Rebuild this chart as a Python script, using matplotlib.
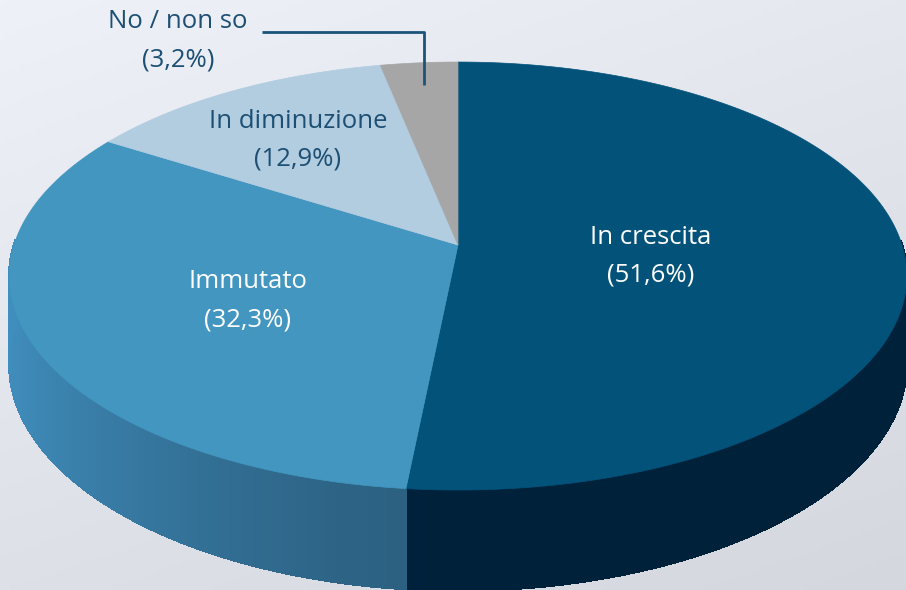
import numpy as np
import matplotlib.pyplot as plt
from matplotlib.patches import Polygon
from matplotlib.collections import PolyCollection
from matplotlib.colors import to_rgb

# dati
labels = ['In crescita', 'Immutato', 'In diminuzione', 'No / non so']
values = [51.6, 32.3, 12.9, 3.2]
pct_text = ['(51,6%)', '(32,3%)', '(12,9%)', '(3,2%)']
top_colors = ['#02527a', '#4296bf', '#b2cce0', '#a6a6a6']
side_colors = ['#00213a', '#2b5f7f', '#7a98ad', '#707070']

plt.rcParams['font.family'] = ['Open Sans', 'DejaVu Sans']

fig = plt.figure(figsize=(9.06, 5.90), dpi=100)
ax = fig.add_axes([0, 0, 1, 1])
ax.set_xlim(0, 906)
ax.set_ylim(590, 0)
ax.axis('off')

# sfondo sfumato
yy, xx = np.mgrid[0:1:120j, 0:1:180j]
g = 0.35 * xx + 0.65 * yy
c1 = np.array(to_rgb('#eef2f8'))
c2 = np.array(to_rgb('#d4d7de'))
bg = c1[None, None, :] * (1 - g[..., None]) + c2[None, None, :] * g[..., None]
ax.imshow(bg, extent=[0, 906, 590, 0], aspect='auto', zorder=0)

# proiezione prospettica del disco
cx, cy, A, B, k, D = 458, 245, 444, 209.5, 0.145, 86


def proj(t, drop=0.0):
    u, v = np.cos(t), np.sin(t)
    w = 1 + k * v
    return cx + A * u / w, cy - B * v / w + drop * D / w


total = sum(values)
cum = np.concatenate([[0], np.cumsum(values)]) / total
t_start = np.pi / 2 - 2 * np.pi * cum[:-1]
t_end = np.pi / 2 - 2 * np.pi * cum[1:]

# fianchi (solo la parte anteriore)
for i in range(len(values)):
    ts = np.linspace(t_start[i], t_end[i], 300)
    quads, cols = [], []
    base = np.array(to_rgb(side_colors[i]))
    for a, b in zip(ts[:-1], ts[1:]):
        m = 0.5 * (a + b)
        if np.sin(m) > 0.02:
            continue
        xa, ya = proj(a)
        xb, yb = proj(b)
        xa2, ya2 = proj(a, 1)
        xb2, yb2 = proj(b, 1)
        quads.append([(xa, ya), (xb, yb), (xb2, yb2), (xa2, ya2)])
        f = 1 + 0.5 * max(0.0, -np.cos(m)) ** 1.5
        cols.append(np.clip(base * f, 0, 1))
    if quads:
        pc = PolyCollection(quads, facecolors=cols, edgecolors=cols,
                            linewidths=1.0, antialiased=False, zorder=2)
        ax.add_collection(pc)

# faccia superiore
for i in range(len(values)):
    ts = np.linspace(t_start[i], t_end[i], 300)
    px, py = proj(ts)
    pts = np.column_stack([np.r_[cx, px], np.r_[cy, py]])
    ax.add_patch(Polygon(pts, closed=True, facecolor=top_colors[i],
                         edgecolor=top_colors[i], linewidth=0.5, zorder=3))

# etichette
dark = '#1c4f73'
fs = 18.5
lab_pos = [(651, 238, 275), (248, 282, 320), (298, 121, 159), (178, 22, 60)]
lab_col = ['white', 'white', dark, dark]
for i in range(len(values)):
    x, y1, y2 = lab_pos[i]
    ax.text(x, y1, labels[i], ha='center', va='center', fontsize=fs,
            color=lab_col[i], zorder=5)
    ax.text(x, y2, pct_text[i], ha='center', va='center', fontsize=fs,
            color=lab_col[i], zorder=5)

# linea guida per "No / non so"
ax.plot([262, 424, 424], [32, 32, 85], color='#1a5479', lw=2.0,
        solid_capstyle='butt', zorder=5)

fig.savefig('out.png', dpi=100)
